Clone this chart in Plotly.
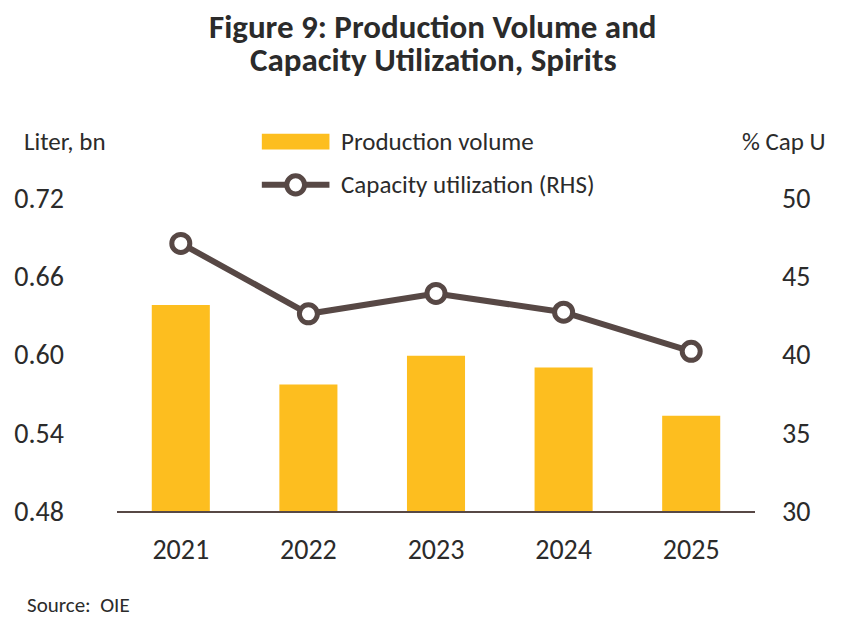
import plotly.graph_objects as go

years = ["2021", "2022", "2023", "2024", "2025"]
production_bn_liter = [0.638, 0.577, 0.599, 0.590, 0.553]
capacity_util_pct = [47.1, 42.6, 43.9, 42.7, 40.2]
left_ticks = [0.48, 0.54, 0.60, 0.66, 0.72]
right_ticks = [30, 35, 40, 45, 50]
title_lines = ["Figure 9: Production Volume and", "Capacity Utilization, Spirits"]

BAR = "#FDBE1F"
LINE = "#574845"
TXT = "#2b2b2b"
FONT = "Carlito, Lato, 'Open Sans', sans-serif"

fig = go.Figure()
fig.add_trace(go.Bar(x=years, y=production_bn_liter, marker_color=BAR,
                     marker_line_width=0, name="Production volume", yaxis="y"))
fig.add_trace(go.Scatter(x=years, y=capacity_util_pct, mode="lines+markers",
                         line=dict(color=LINE, width=6),
                         marker=dict(symbol="circle", size=18, color="white",
                                     line=dict(color=LINE, width=5)),
                         name="Capacity utilization (RHS)", yaxis="y2"))

fig.update_layout(
    width=855, height=641,
    margin=dict(l=117, r=100, t=198, b=130),
    paper_bgcolor="white", plot_bgcolor="white",
    showlegend=False,
    bargap=0.545,
    font=dict(family=FONT, color=TXT, size=28),
    xaxis=dict(type="category", showline=True, linecolor=LINE, linewidth=2,
               ticks="", showgrid=False, tickfont=dict(size=28), ticklabelstandoff=12),
    yaxis=dict(range=[0.48, 0.72], tickvals=left_ticks, tickformat=".2f",
               showgrid=False, showline=False, zeroline=False, ticks="",
               ticklabelstandoff=52, tickfont=dict(size=28)),
    yaxis2=dict(range=[30, 50], tickvals=right_ticks, overlaying="y", side="right",
                showgrid=False, showline=False, zeroline=False, ticks="",
                ticklabelstandoff=26, tickfont=dict(size=28)),
)

# title (two lines, tighter spacing)
for txt, yy in zip(title_lines, [1.546, 1.441]):
    fig.add_annotation(text="<b>" + txt + "</b>", xref="paper", yref="paper",
                       x=0.496, y=yy, xanchor="center", yanchor="middle",
                       showarrow=False, font=dict(size=33, color=TXT))

# axis unit labels
fig.add_annotation(text="Liter, bn", xref="paper", yref="paper", x=-0.149, y=1.182,
                   xanchor="left", yanchor="middle", showarrow=False,
                   font=dict(size=25, color=TXT))
fig.add_annotation(text="% Cap U", xref="paper", yref="paper", x=1.045, y=1.182,
                   xanchor="center", yanchor="middle", showarrow=False,
                   font=dict(size=25, color=TXT))

# custom legend
fig.add_shape(type="rect", xref="paper", yref="paper", x0=0.227, x1=0.333,
              y0=1.155, y1=1.205, fillcolor=BAR, line_width=0)
fig.add_annotation(text="Production volume", xref="paper", yref="paper", x=0.348, y=1.182,
                   xanchor="left", yanchor="middle", showarrow=False,
                   font=dict(size=25, color=TXT))
fig.add_shape(type="line", xref="paper", yref="paper", x0=0.227, x1=0.333,
              y0=1.042, y1=1.042, line=dict(color=LINE, width=6))
fig.add_shape(type="circle", xref="paper", yref="paper", x0=0.266, x1=0.294,
              y0=1.013, y1=1.071, fillcolor="white", line=dict(color=LINE, width=5))
fig.add_annotation(text="Capacity utilization (RHS)", xref="paper", yref="paper", x=0.348,
                   y=1.042, xanchor="left", yanchor="middle", showarrow=False,
                   font=dict(size=25, color=TXT))

fig.add_annotation(text="Source:  OIE", xref="paper", yref="paper", x=-0.144, y=-0.30,
                   xanchor="left", yanchor="middle", showarrow=False,
                   font=dict(size=21, color=TXT))

fig.write_html("out.html")
